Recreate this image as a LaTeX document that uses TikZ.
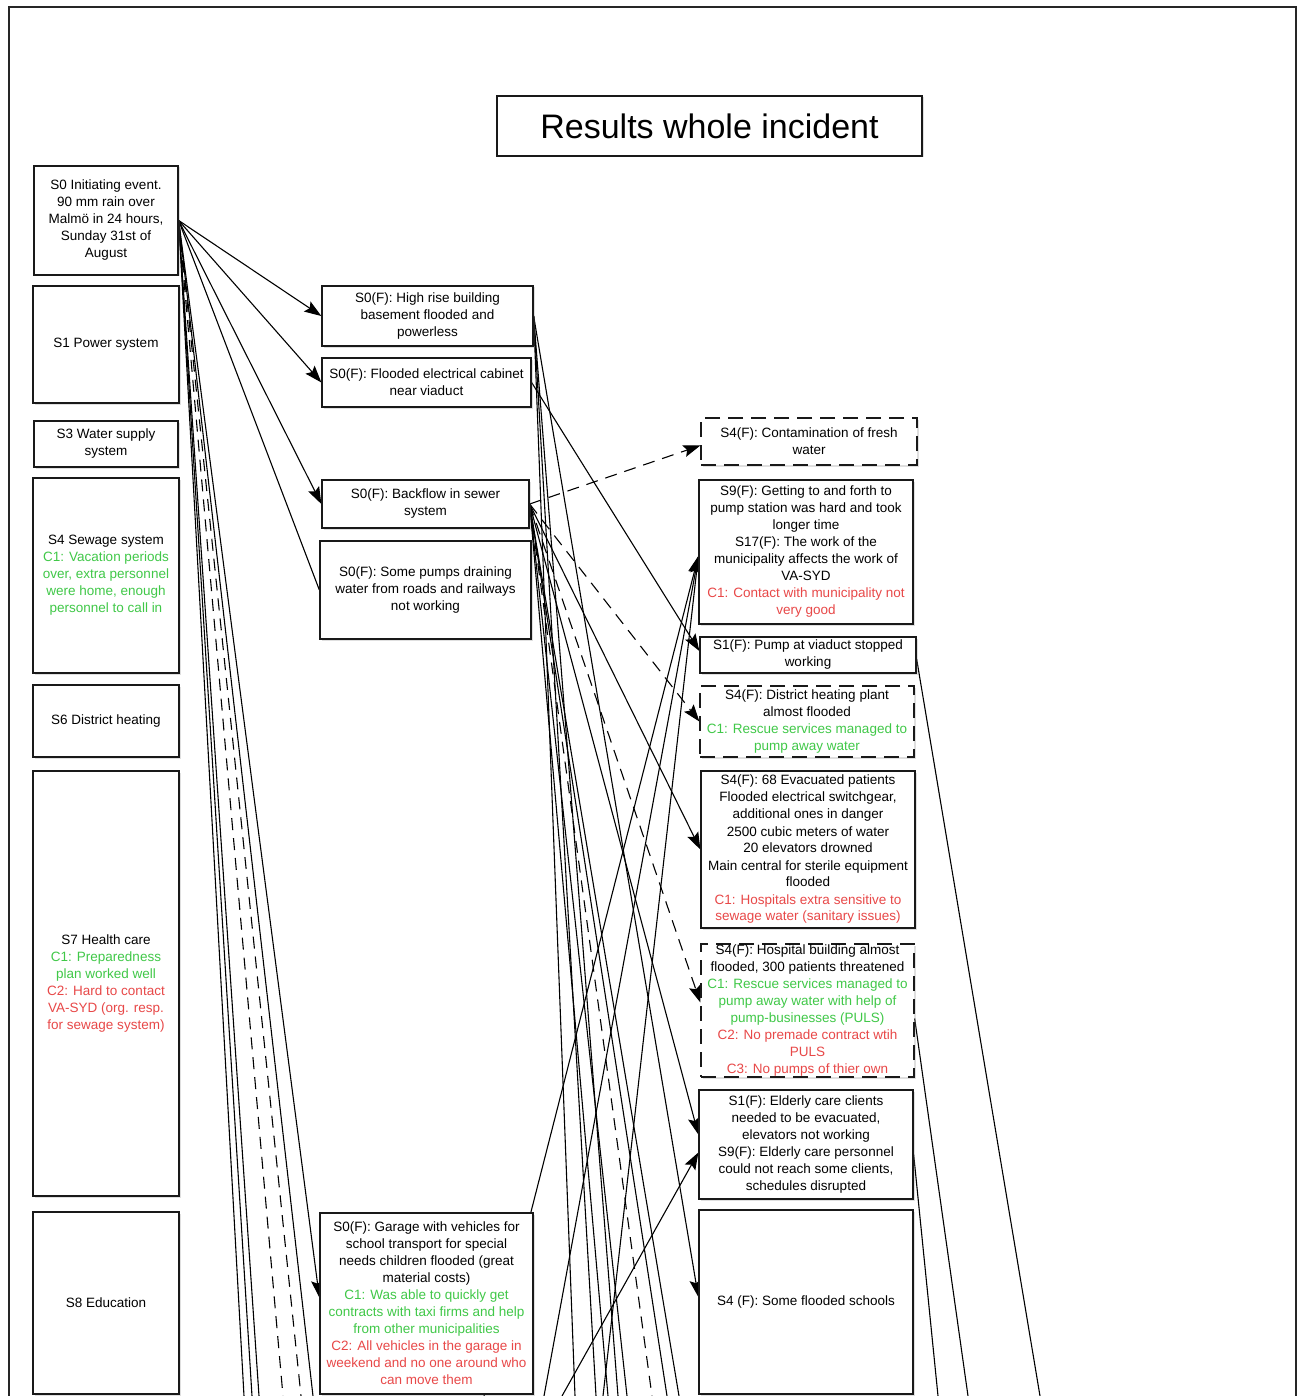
\documentclass[tikz,border=0pt]{standalone}
\usepackage{fontspec}
\setmainfont{Liberation Sans}
\usetikzlibrary{arrows.meta,shadows}
\definecolor{cgreen}{RGB}{64,200,72}
\definecolor{cred}{RGB}{232,72,72}
\pgfdeclarelayer{edges}
\pgfsetlayers{edges,main}
\newcommand\txtg[1]{\textcolor{cgreen}{#1}}
\newcommand\txtr[1]{\textcolor{cred}{#1}}
\tikzset{
  box/.style={draw=black!90, line width=1.3pt, fill=white, align=center, inner sep=0pt,
    font=\fontsize{13.5}{17}\selectfont,
    drop shadow={shadow xshift=1.5pt, shadow yshift=-1.5pt, opacity=0.25}},
  dbox/.style={box, dash pattern=on 15pt off 8pt},
  conn/.style={line width=1.1pt, black},
  arr/.style={conn, -{Stealth[length=17pt,width=12pt,inset=3pt]}},
  dconn/.style={conn, dash pattern=on 12pt off 8pt},
  darr/.style={arr, dash pattern=on 12pt off 8pt},
}
\begin{document}
\begin{tikzpicture}[x=1pt,y=-1pt]
\useasboundingbox (0,0) rectangle (1303,1396);
% outer frame
\draw[line width=2pt, black!85] (9,1396) -- (9,7) -- (1296,7) -- (1296,1396);

% title
\node[box, minimum width=425pt, minimum height=60pt, font=\fontsize{34}{40}\selectfont] (title) at (709.5,126) {Results whole incident};

% left column: sectors
\node[box, minimum width=144pt, minimum height=109pt] (S0) at (106,220.5)
  {S0 Initiating event.\\90 mm rain over\\Malmö in 24 hours,\\Sunday 31st of\\August};
\node[box, minimum width=146pt, minimum height=117pt] (S1) at (106,344.5) {S1 Power system};
\node[box, minimum width=144pt, minimum height=46pt] (S3) at (106,444) {S3 Water supply\\system};
\node[box, minimum width=146pt, minimum height=195pt] (S4) at (106,575.5)
  {S4 Sewage system\\\txtg{C1: Vacation periods}\\\txtg{over, extra personnel}\\\txtg{were home, enough}\\\txtg{personnel to call in}};
\node[box, minimum width=146pt, minimum height=72pt] (S6) at (106,721) {S6 District heating};
\node[box, minimum width=146pt, minimum height=425pt] (S7) at (106,983.5)
  {S7 Health care\\\txtg{C1: Preparedness}\\\txtg{plan worked well}\\\txtr{C2: Hard to contact}\\\txtr{VA-SYD (org. resp.}\\\txtr{for sewage system)}};
\node[box, minimum width=146pt, minimum height=182pt] (S8) at (106,1303) {S8 Education};

% middle column: first-order consequences
\node[box, minimum width=211pt, minimum height=60pt] (HR) at (427.5,316)
  {S0(F): High rise building\\basement flooded and\\powerless};
\node[box, minimum width=209pt, minimum height=49pt] (EC) at (426.5,382.5)
  {S0(F): Flooded electrical cabinet\\near viaduct};
\node[box, minimum width=207pt, minimum height=48pt] (BF) at (425.5,504)
  {S0(F): Backflow in sewer\\system};
\node[box, minimum width=211pt, minimum height=98pt] (PD) at (425.5,590)
  {S0(F): Some pumps draining\\water from roads and railways\\not working};
\node[box, minimum width=213pt, minimum height=181pt] (GA) at (426.5,1303.5)
  {S0(F): Garage with vehicles for\\school transport for special\\needs children flooded (great\\material costs)\\
   \txtg{C1: Was able to quickly get}\\\txtg{contracts with taxi firms and help}\\\txtg{from other municipalities}\\
   \txtr{C2: All vehicles in the garage in}\\\txtr{weekend and no one around who}\\\txtr{can move them}};

% right column: further consequences
\node[dbox, minimum width=216pt, minimum height=47pt] (CF) at (809,441.5)
  {S4(F): Contamination of fresh\\water};
\node[box, minimum width=214pt, minimum height=144pt] (PS) at (806,552)
  {S9(F): Getting to and forth to\\pump station was hard and took\\longer time\\S17(F): The work of the\\municipality affects the work of\\VA-SYD\\
   \txtr{C1: Contact with municipality not}\\\txtr{very good}};
\node[box, minimum width=216pt, minimum height=36pt] (PV) at (808,655)
  {S1(F): Pump at viaduct stopped\\working};
\node[dbox, minimum width=214pt, minimum height=71pt] (DH) at (807,721.5)
  {S4(F): District heating plant\\almost flooded\\\txtg{C1: Rescue services managed to}\\\txtg{pump away water}};
\node[box, minimum width=214pt, minimum height=157pt] (EP) at (808,849.5)
  {S4(F): 68 Evacuated patients\\Flooded electrical switchgear,\\additional ones in danger\\2500 cubic meters of water\\20 elevators drowned\\Main central for sterile equipment\\flooded\\
   \txtr{C1: Hospitals extra sensitive to}\\\txtr{sewage water (sanitary issues)}};
\node[dbox, minimum width=213pt, minimum height=133pt] (HB) at (807.5,1010.5)
  {S4(F): Hospital building almost\\flooded, 300 patients threatened\\
   \txtg{C1: Rescue services managed to}\\\txtg{pump away water with help of}\\\txtg{pump-businesses (PULS)}\\
   \txtr{C2: No premade contract wtih}\\\txtr{PULS}\\\txtr{C3: No pumps of thier own}};
\node[box, minimum width=214pt, minimum height=109pt] (EL) at (806,1144.5)
  {S1(F): Elderly care clients\\needed to be evacuated,\\elevators not working\\S9(F): Elderly care personnel\\could not reach some clients,\\schedules disrupted};
\node[box, minimum width=214pt, minimum height=184pt] (SC) at (806,1302)
  {S4 (F): Some flooded schools};

% loose ends of connectors continuing below the sheet
\coordinate (s0a) at (244,1396);
\coordinate (s0b) at (252,1396);
\coordinate (s0c) at (259,1396);
\coordinate (s0d) at (283,1396);
\coordinate (s0e) at (301,1396);
\coordinate (s0f) at (313,1396);
\coordinate (hra) at (575,1396);
\coordinate (hrb) at (596,1396);
\coordinate (hrc) at (618,1396);
\coordinate (bfa) at (608,1396);
\coordinate (bfb) at (627,1396);
\coordinate (bfc) at (652,1396);
\coordinate (bfd) at (667,1396);
\coordinate (bfe) at (679,1396);
\coordinate (psa) at (484,1396);
\coordinate (psb) at (544,1396);
\coordinate (psc) at (603,1396);
\coordinate (ela) at (562,1396);
\coordinate (pva) at (1040,1396);
\coordinate (hba) at (968,1396);
\coordinate (elb) at (938,1396);

\begin{pgfonlayer}{edges}
% from the initiating event
\draw[arr] (S0.east) -- (HR.west);
\draw[arr] (S0.east) -- (EC.west);
\draw[arr] (S0.east) -- (BF.west);
\draw[conn] (S0.east) -- (PD.west);
\draw[conn] (S0.east) -- (s0a);
\draw[conn] (S0.east) -- (s0b);
\draw[conn] (S0.east) -- (s0c);
\draw[dconn] (S0.east) -- (s0d);
\draw[dconn] (S0.east) -- (s0e);
\draw[conn] (S0.east) -- (s0f);
\draw[arr] (S0.east) -- ([yshift=6pt]GA.west);
% from the high rise building
\draw[conn] (HR.east) -- (hra);
\draw[conn] (HR.east) -- (hrb);
\draw[conn] (HR.east) -- (hrc);
\draw[arr] (HR.east) -- ([yshift=5pt]SC.west);
% from the electrical cabinet
\draw[arr] (EC.east) -- ([yshift=4pt]PV.west);
% from the sewer backflow
\draw[darr] (BF.east) -- ([yshift=-4pt]CF.west);
\draw[darr] (BF.east) -- (DH.west);
\draw[arr] (BF.east) -- (EP.west);
\draw[darr] (BF.east) -- ([yshift=8pt]HB.west);
\draw[arr] (BF.east) -- ([yshift=10pt]EL.west);
\draw[conn] (BF.east) -- (bfa);
\draw[conn] (BF.east) -- (bfb);
\draw[dconn] (BF.east) -- (bfc);
\draw[conn] (BF.east) -- (bfd);
\draw[conn] (BF.east) -- (bfe);
% arriving from below
\draw[arr] (psa) -- ([yshift=-4pt]PS.west);
\draw[arr] (psb) -- ([yshift=-4pt]PS.west);
\draw[arr] (psc) -- ([yshift=-4pt]PS.west);
\draw[arr] (ela) -- ([yshift=-8pt]EL.west);
% leaving to the right
\draw[conn] ([yshift=-4pt]PV.east) -- (pva);
\draw[conn] ([yshift=-8pt]HB.east) -- (hba);
\draw[conn] ([yshift=-10pt]EL.east) -- (elb);
\end{pgfonlayer}
\end{tikzpicture}
\end{document}
